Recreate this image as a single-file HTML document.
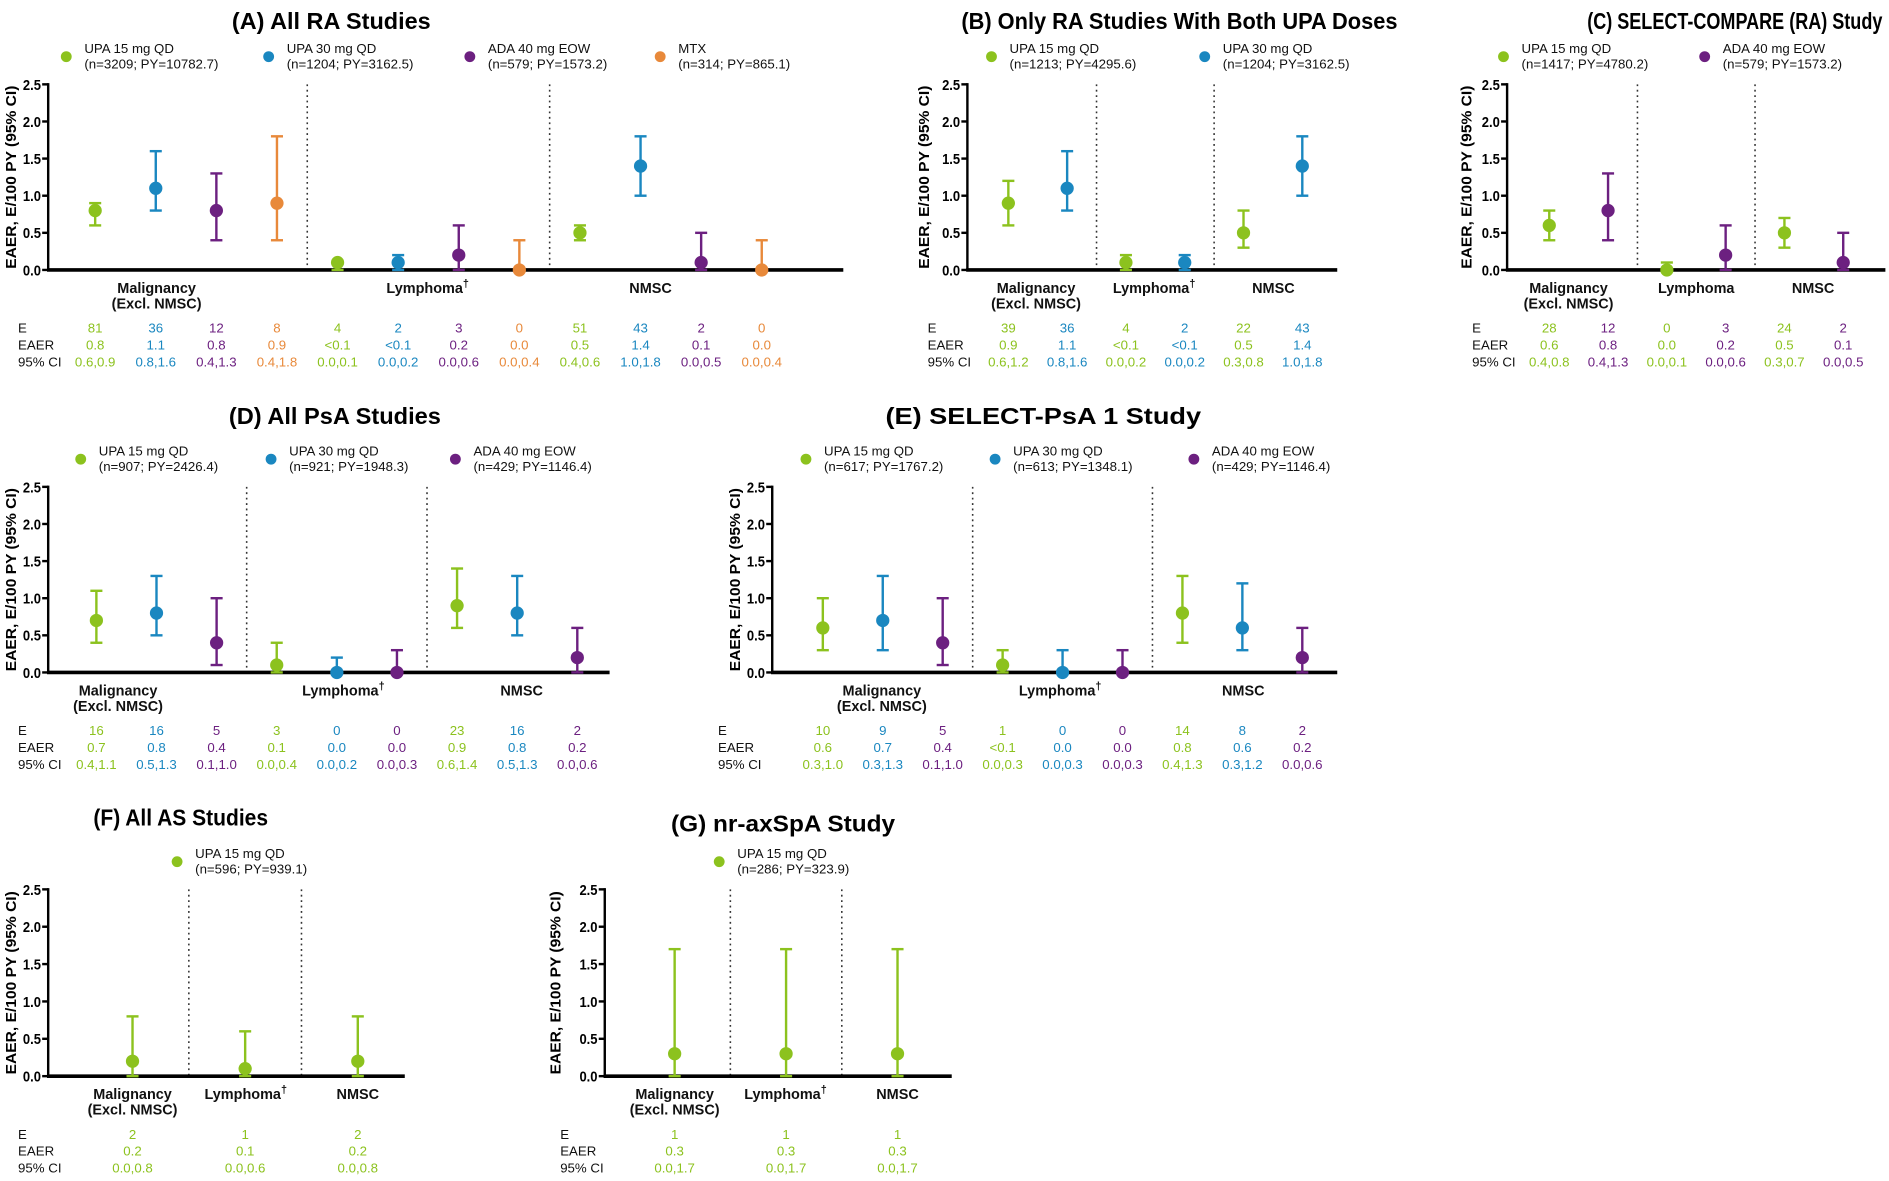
<!DOCTYPE html>
<html><head><meta charset="utf-8"><style>
html,body{margin:0;padding:0;background:#fff;}
svg{display:block;font-family:"Liberation Sans",sans-serif;}
</style></head><body>
<svg id="chart" width="1889" height="1181" viewBox="0 0 1568 980" preserveAspectRatio="none" xmlns="http://www.w3.org/2000/svg"></svg>
<script>
const categories = ["Malignancy|(Excl. NMSC)", "Lymphoma†", "NMSC"];
const colors = {UPA15:"#8cc21e", UPA30:"#1a87c0", ADA:"#6c2080", MTX:"#e8893a"};
const yTicks = [0, 0.5, 1.0, 1.5, 2.0, 2.5];
const yTickLabels = ["0.0","0.5","1.0","1.5","2.0","2.5"];

// Panel A
const aSeries = ["UPA15","UPA30","ADA","MTX"];
const aLegend = [["UPA 15 mg QD","(n=3209; PY=10782.7)"],["UPA 30 mg QD","(n=1204; PY=3162.5)"],["ADA 40 mg EOW","(n=579; PY=1573.2)"],["MTX","(n=314; PY=865.1)"]];
const aEst = [[0.8,0.1,0.5],[1.1,0.1,1.4],[0.8,0.2,0.1],[0.9,0.0,0.0]];
const aLo = [[0.6,0.0,0.4],[0.8,0.0,1.0],[0.4,0.0,0.0],[0.4,0.0,0.0]];
const aHi = [[0.9,0.1,0.6],[1.6,0.2,1.8],[1.3,0.6,0.5],[1.8,0.4,0.4]];
const aE = [["81","4","51"],["36","2","43"],["12","3","2"],["8","0","0"]];
const aR = [["0.8","<0.1","0.5"],["1.1","<0.1","1.4"],["0.8","0.2","0.1"],["0.9","0.0","0.0"]];
const aCI = [["0.6,0.9","0.0,0.1","0.4,0.6"],["0.8,1.6","0.0,0.2","1.0,1.8"],["0.4,1.3","0.0,0.6","0.0,0.5"],["0.4,1.8","0.0,0.4","0.0,0.4"]];
// Panel B
const bSeries = ["UPA15","UPA30"];
const bLegend = [["UPA 15 mg QD","(n=1213; PY=4295.6)"],["UPA 30 mg QD","(n=1204; PY=3162.5)"]];
const bEst = [[0.9,0.1,0.5],[1.1,0.1,1.4]];
const bLo = [[0.6,0.0,0.3],[0.8,0.0,1.0]];
const bHi = [[1.2,0.2,0.8],[1.6,0.2,1.8]];
const bE = [["39","4","22"],["36","2","43"]];
const bR = [["0.9","<0.1","0.5"],["1.1","<0.1","1.4"]];
const bCI = [["0.6,1.2","0.0,0.2","0.3,0.8"],["0.8,1.6","0.0,0.2","1.0,1.8"]];
// Panel C
const cSeries = ["UPA15","ADA"];
const cLegend = [["UPA 15 mg QD","(n=1417; PY=4780.2)"],["ADA 40 mg EOW","(n=579; PY=1573.2)"]];
const cEst = [[0.6,0.0,0.5],[0.8,0.2,0.1]];
const cLo = [[0.4,0.0,0.3],[0.4,0.0,0.0]];
const cHi = [[0.8,0.1,0.7],[1.3,0.6,0.5]];
const cE = [["28","0","24"],["12","3","2"]];
const cR = [["0.6","0.0","0.5"],["0.8","0.2","0.1"]];
const cCI = [["0.4,0.8","0.0,0.1","0.3,0.7"],["0.4,1.3","0.0,0.6","0.0,0.5"]];
// Panel D
const dSeries = ["UPA15","UPA30","ADA"];
const dLegend = [["UPA 15 mg QD","(n=907; PY=2426.4)"],["UPA 30 mg QD","(n=921; PY=1948.3)"],["ADA 40 mg  EOW","(n=429; PY=1146.4)"]];
const dEst = [[0.7,0.1,0.9],[0.8,0.0,0.8],[0.4,0.0,0.2]];
const dLo = [[0.4,0.0,0.6],[0.5,0.0,0.5],[0.1,0.0,0.0]];
const dHi = [[1.1,0.4,1.4],[1.3,0.2,1.3],[1.0,0.3,0.6]];
const dE = [["16","3","23"],["16","0","16"],["5","0","2"]];
const dR = [["0.7","0.1","0.9"],["0.8","0.0","0.8"],["0.4","0.0","0.2"]];
const dCI = [["0.4,1.1","0.0,0.4","0.6,1.4"],["0.5,1.3","0.0,0.2","0.5,1.3"],["0.1,1.0","0.0,0.3","0.0,0.6"]];
// Panel E
const eSeries = ["UPA15","UPA30","ADA"];
const eLegend = [["UPA 15 mg QD","(n=617; PY=1767.2)"],["UPA 30 mg QD","(n=613; PY=1348.1)"],["ADA 40 mg  EOW","(n=429; PY=1146.4)"]];
const eEst = [[0.6,0.1,0.8],[0.7,0.0,0.6],[0.4,0.0,0.2]];
const eLo = [[0.3,0.0,0.4],[0.3,0.0,0.3],[0.1,0.0,0.0]];
const eHi = [[1.0,0.3,1.3],[1.3,0.3,1.2],[1.0,0.3,0.6]];
const eE = [["10","1","14"],["9","0","8"],["5","0","2"]];
const eR = [["0.6","<0.1","0.8"],["0.7","0.0","0.6"],["0.4","0.0","0.2"]];
const eCI = [["0.3,1.0","0.0,0.3","0.4,1.3"],["0.3,1.3","0.0,0.3","0.3,1.2"],["0.1,1.0","0.0,0.3","0.0,0.6"]];
// Panel F
const fSeries = ["UPA15"];
const fLegend = [["UPA 15 mg QD","(n=596; PY=939.1)"]];
const fEst = [[0.2,0.1,0.2]];
const fLo = [[0.0,0.0,0.0]];
const fHi = [[0.8,0.6,0.8]];
const fE = [["2","1","2"]];
const fR = [["0.2","0.1","0.2"]];
const fCI = [["0.0,0.8","0.0,0.6","0.0,0.8"]];
// Panel G
const gSeries = ["UPA15"];
const gLegend = [["UPA 15 mg QD","(n=286; PY=323.9)"]];
const gEst = [[0.3,0.3,0.3]];
const gLo = [[0.0,0.0,0.0]];
const gHi = [[1.7,1.7,1.7]];
const gE = [["1","1","1"]];
const gR = [["0.3","0.3","0.3"]];
const gCI = [["0.0,1.7","0.0,1.7","0.0,1.7"]];

const NS = "http://www.w3.org/2000/svg";
const svg = document.getElementById("chart");
function mk(tag, attrs, parent, text) {
  const el = document.createElementNS(NS, tag);
  for (const k in attrs) el.setAttribute(k, attrs[k]);
  if (text !== undefined) el.textContent = text;
  (parent || svg).appendChild(el);
  return el;
}

const layouts = [
  {id:"a", title:"(A) All RA Studies", tx:275, tw:165, ty:24, axX:40, axEnd:700, top:70, bot:224, x0:79, step:50.3, legX:[55,223,390,548], legY:47, catX:[130,355,540], tabX:15, tabY:276, atX:10, series:aSeries, legend:aLegend, est:aEst, lo:aLo, hi:aHi, E:aE, R:aR, CI:aCI},
  {id:"b", title:"(B) Only RA Studies With Both UPA Doses", tx:979, tw:362, ty:24, axX:803, axEnd:1110, top:70, bot:224, x0:837, step:48.8, legX:[823,1000], legY:47, catX:[860,958,1057], tabX:770, tabY:276, atX:768, series:bSeries, legend:bLegend, est:bEst, lo:bLo, hi:bHi, E:bE, R:bR, CI:bCI},
  {id:"c", title:"(C) SELECT-COMPARE (RA) Study", tx:1440, tw:245, ty:24, axX:1251, axEnd:1565, top:70, bot:224, x0:1286, step:48.8, legX:[1248,1415], legY:47, catX:[1302,1408,1505], tabX:1222, tabY:276, atX:1218, series:cSeries, legend:cLegend, est:cEst, lo:cLo, hi:cHi, E:cE, R:cR, CI:cCI},
  {id:"d", title:"(D) All PsA Studies", tx:278, tw:176, ty:352, axX:40, axEnd:506, top:404, bot:558, x0:80, step:49.9, legX:[67,225,378], legY:381, catX:[98,285,433], tabX:15, tabY:610, atX:10, series:dSeries, legend:dLegend, est:dEst, lo:dLo, hi:dHi, E:dE, R:dR, CI:dCI},
  {id:"e", title:"(E) SELECT-PsA 1 Study", tx:866, tw:262, ty:352, axX:641, axEnd:1110, top:404, bot:558, x0:683, step:49.75, legX:[669,826,991], legY:381, catX:[732,880,1032], tabX:596, tabY:610, atX:611, series:eSeries, legend:eLegend, est:eEst, lo:eLo, hi:eHi, E:eE, R:eR, CI:eCI},
  {id:"f", title:"(F) All AS Studies", tx:150, tw:145, ty:685, axX:40, axEnd:336, top:738, bot:893, x0:110, step:93.5, legX:[147], legY:715, catX:[110,204,297], tabX:15, tabY:945, atX:10, series:fSeries, legend:fLegend, est:fEst, lo:fLo, hi:fHi, E:fE, R:fR, CI:fCI},
  {id:"g", title:"(G) nr-axSpA Study", tx:650, tw:186, ty:690, axX:502, axEnd:790, top:738, bot:893, x0:560, step:92.5, legX:[597], legY:715, catX:[560,652,745], tabX:465, tabY:945, atX:462, series:gSeries, legend:gLegend, est:gEst, lo:gLo, hi:gHi, E:gE, R:gR, CI:gCI}
];

layouts.forEach(L => {
  const g = mk("g", {});
  
  
  const yScale = v => L.bot - (v / 2.5) * (L.bot - L.top);
  const ns = L.series.length;
  const xPos = (gi, si) => L.x0 + (gi * ns + si) * L.step;

  const t = mk("text", {x:L.tx - L.tw/2, y:L.ty, "font-size":19, "font-weight":"bold", fill:"#000", textLength:L.tw, lengthAdjust:"spacingAndGlyphs"}, g, L.title);
  
  

  // legend
  L.legend.forEach((lg, si) => {
    const le = mk("g", {}, g);
    
    
    mk("circle", {cx:L.legX[si], cy:L.legY, r:4.5, fill:colors[L.series[si]]}, le);
    mk("text", {x:L.legX[si]+15, y:L.legY-3, "font-size":11, fill:"#111"}, le, lg[0]);
    mk("text", {x:L.legX[si]+15, y:L.legY+10, "font-size":11, fill:"#111"}, le, lg[1]);
  });

  // y axis
  const ya = mk("g", {}, g);
  
  
  mk("line", {x1:L.axX, y1:L.top-1, x2:L.axX, y2:L.bot, stroke:"#000", "stroke-width":2}, ya);
  yTicks.forEach((v, i) => {
    const y = yScale(v);
    mk("line", {x1:L.axX-5, y1:y, x2:L.axX, y2:y, stroke:"#000", "stroke-width":2}, ya);
    mk("text", {x:L.axX-6, y:y+4.5, "text-anchor":"end", "font-size":12, "font-weight":"bold", fill:"#000", textLength:15, lengthAdjust:"spacingAndGlyphs"}, ya, yTickLabels[i]);
  });
  const midY = (L.top + L.bot) / 2;
  const yt = mk("text", {x:L.atX, y:midY, "text-anchor":"middle", "font-size":12, "font-weight":"bold", fill:"#000", transform:`rotate(-90 ${L.atX} ${midY})`, "dominant-baseline":"central", textLength:152, lengthAdjust:"spacingAndGlyphs"}, g, "EAER, E/100 PY (95% CI)");
  
  

  // dividers
  for (let gi = 1; gi < 3; gi++) {
    const xd = (xPos(gi - 1, ns - 1) + xPos(gi, 0)) / 2;
    const dv = mk("line", {x1:xd, y1:L.top, x2:xd, y2:L.bot, stroke:"#333", "stroke-width":1.3, "stroke-dasharray":"1.5,3"}, g);
    
    
  }

  // x axis
  const xa = mk("line", {x1:L.axX-1, y1:L.bot, x2:L.axEnd, y2:L.bot, stroke:"#000", "stroke-width":3}, g);
  
  

  // category labels
  categories.forEach((c, gi) => {
    const parts = c.split("|");
    const cl = mk("text", {x:L.catX[gi], y:L.bot+19, "text-anchor":"middle", "font-size":12, "font-weight":"bold", fill:"#111"}, g);
    
    
    let label = parts[0];
    if (L.id === "c" && gi === 1) label = "Lymphoma";
    if (label.endsWith("†")) {
      mk("tspan", {}, cl, label.slice(0, -1));
      mk("tspan", {dy:-5, "font-size":9}, cl, "†");
    } else {
      mk("tspan", {}, cl, label);
    }
    if (parts[1]) mk("tspan", {x:L.catX[gi], dy: 13, "font-size":12}, cl, parts[1]);
  });

  // marks
  L.series.forEach((s, si) => {
    const col = colors[s];
    for (let gi = 0; gi < 3; gi++) {
      const x = xPos(gi, si);
      const mg = mk("g", {}, g);
      
      
      const yl = yScale(L.lo[si][gi]), yh = yScale(L.hi[si][gi]), ye = yScale(L.est[si][gi]);
      mk("line", {x1:x, y1:yl, x2:x, y2:yh, stroke:col, "stroke-width":2}, mg);
      mk("line", {x1:x-5, y1:yh, x2:x+5, y2:yh, stroke:col, "stroke-width":2}, mg);
      mk("line", {x1:x-5, y1:yl, x2:x+5, y2:yl, stroke:col, "stroke-width":2}, mg);
      mk("circle", {cx:x, cy:ye, r:5.5, fill:col}, mg);
    }
  });

  // table
  const tb = mk("g", {}, g);
  
  
  ["E","EAER","95% CI"].forEach((r, ri) => mk("text", {x:L.tabX, y:L.tabY + ri*14, "font-size":11, fill:"#111"}, tb, r));
  L.series.forEach((s, si) => {
    for (let gi = 0; gi < 3; gi++) {
      const x = xPos(gi, si);
      [L.E, L.R, L.CI].forEach((arr, ri) => mk("text", {x:x, y:L.tabY + ri*14, "text-anchor":"middle", "font-size":11, fill:colors[s]}, tb, arr[si][gi]));
    }
  });
});
</script>
</body></html>
